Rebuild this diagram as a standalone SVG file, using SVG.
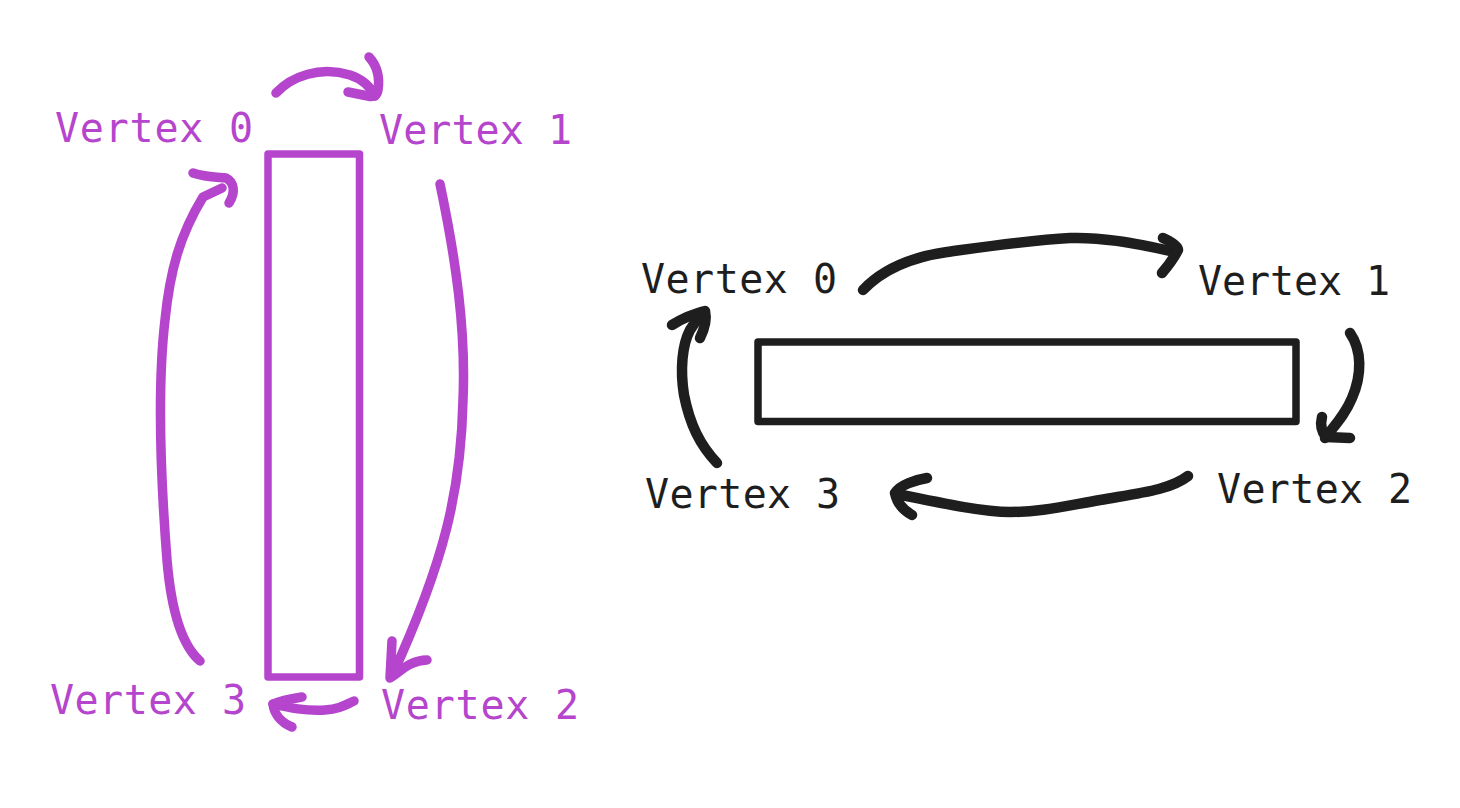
<svg xmlns="http://www.w3.org/2000/svg" width="1460" height="808" viewBox="0 0 1460 808">
<style>
.lbl{font-family:"DejaVu Sans Mono","Liberation Mono",monospace;font-size:40px}
.p{fill:#b545cc}
.k{fill:#1e1e1e}
.box{fill:none;stroke-width:7.5;stroke-linejoin:round}
.arr{fill:none;stroke-linecap:round;stroke-linejoin:round}
.ps{stroke:#b545cc}
.ks{stroke:#1e1e1e}
.arr.ps{stroke-width:9.5}
.arr.ks{stroke-width:10.5}
</style>
<rect width="1460" height="808" fill="#ffffff"/>
<g id="left-diagram">
<g id="left-rect"><rect class="box ps" x="268" y="154" width="91.5" height="523"/></g>
<g id="left-v0"><text class="lbl p" x="55" y="142" textLength="198" lengthAdjust="spacing">Vertex 0</text></g>
<g id="left-v1"><text class="lbl p" x="379" y="144" textLength="193" lengthAdjust="spacing">Vertex 1</text></g>
<g id="left-v2"><text class="lbl p" x="381" y="719" textLength="198" lengthAdjust="spacing">Vertex 2</text></g>
<g id="left-v3"><text class="lbl p" x="50" y="714" textLength="196" lengthAdjust="spacing">Vertex 3</text></g>
</g>
<g id="right-diagram">
<g id="right-rect"><rect class="box ks" x="758" y="342" width="538" height="79.5"/></g>
<g id="right-v0"><text class="lbl k" x="641" y="293" textLength="196" lengthAdjust="spacing">Vertex 0</text></g>
<g id="right-v1"><text class="lbl k" x="1198" y="295" textLength="192" lengthAdjust="spacing">Vertex 1</text></g>
<g id="right-v2"><text class="lbl k" x="1217" y="503" textLength="195" lengthAdjust="spacing">Vertex 2</text></g>
<g id="right-v3"><text class="lbl k" x="645" y="508" textLength="195" lengthAdjust="spacing">Vertex 3</text></g>
</g>
<g id="connectors">
<g id="left-0-1"><path class="arr ps" d="M276,93 C292,76 320,66 350,75 C362,79 370,86 375,96"/><path class="arr ps" d="M369,57 Q381,70 378,90 Q377,98 368,96 L348,92"/></g>
<g id="left-1-2"><path class="arr ps" d="M440,184 C456,260 466,330 463,400 C461,490 445,560 392,676"/><path class="arr ps" d="M392,641 L390,678 C400,672 410,660 427,660"/></g>
<g id="left-2-3"><path class="arr ps" d="M354,701 C345,705 340,709 325,710 C305,711 290,708 273,704"/><path class="arr ps" d="M302,697 C290,699 280,701 273,704 C274,713 280,722 292,727"/></g>
<g id="left-3-0"><path class="arr ps" d="M200,661 C185,648 172,620 167,560 C160,470 158,380 165,320 C170,270 180,235 203,197 L222,188"/><path class="arr ps" d="M193,173 C205,177 215,177 226,178 C234,182 236,192 229,203"/></g>
<g id="right-0-1"><path class="arr ks" d="M863,290 C880,272 905,258 947,252 C990,246 1030,240 1070,238 C1100,237 1130,242 1175,252"/><path class="arr ks" d="M1163,238 C1172,242 1178,246 1178,250 C1174,258 1168,266 1162,273"/></g>
<g id="right-1-2"><path class="arr ks" d="M1350,333 C1362,350 1362,375 1352,398 C1345,415 1335,425 1325,438"/><path class="arr ks" d="M1322,417 C1320,425 1322,432 1326,437 L1350,438"/></g>
<g id="right-2-3"><path class="arr ks" d="M1188,476 C1170,490 1140,493 1100,500 C1060,507 1040,512 1010,512 C985,512 950,505 897,494"/><path class="arr ks" d="M927,478 C915,480 900,485 895,493 C897,503 903,510 912,515"/></g>
<g id="right-3-0"><path class="arr ks" d="M717,463 C700,445 690,425 684,395 C680,370 682,345 690,330 L702,312"/><path class="arr ks" d="M672,325 C680,320 692,314 705,311 C707,320 704,330 700,338"/></g>
</g>
</svg>
